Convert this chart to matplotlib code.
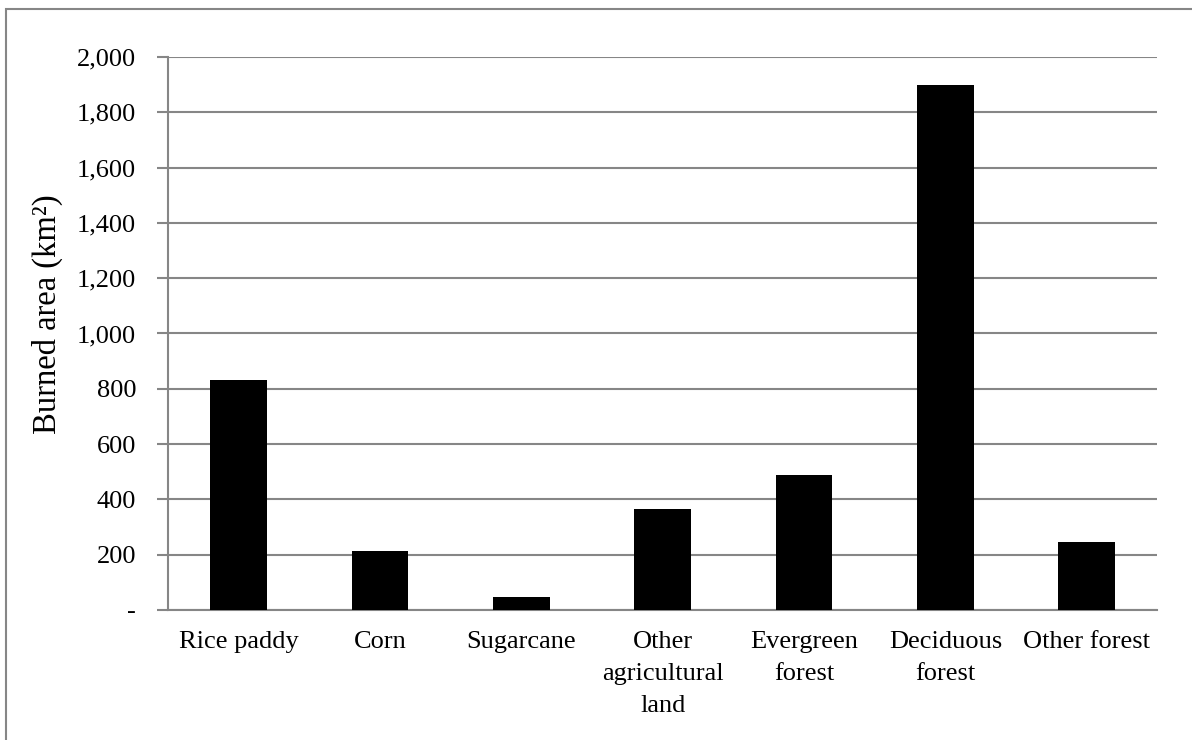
import matplotlib
matplotlib.use('Agg')
from matplotlib import pyplot as plt
from matplotlib.patches import Rectangle
from matplotlib.ticker import FuncFormatter

# burned area by land cover type
categories = ['Rice paddy', 'Corn', 'Sugarcane', 'Other\nagricultural\nland',
              'Evergreen\nforest', 'Deciduous\nforest', 'Other forest']
burned_area = [830, 214, 47, 364, 488, 1900, 247]
y_ticks = [0, 200, 400, 600, 800, 1000, 1200, 1400, 1600, 1800, 2000]

plt.rcParams['font.family'] = ['Liberation Serif', 'DejaVu Serif']

grey = '#868686'

fig = plt.figure(figsize=(11.92, 7.4), dpi=100)
ax = fig.add_axes([0.141, 0.1757, 0.830, 0.7473])

xs = range(len(categories))
ax.bar(xs, burned_area, 0.4, color='black', zorder=3)

ax.set_xlim(-0.5, len(categories) - 0.5)
ax.set_ylim(0, 2000)
ax.set_yticks(y_ticks)
ax.yaxis.set_major_formatter(FuncFormatter(lambda v, p: '-' if v == 0 else '{:,.0f}'.format(v)))
ax.set_xticks(list(xs))
ax.set_xticklabels(categories, fontsize=19, linespacing=1.6, va='top')

ax.grid(axis='y', color=grey, linewidth=1.5, zorder=0)
ax.tick_params(axis='y', length=8, width=1.5, color=grey, labelsize=19, pad=15)
ax.tick_params(axis='x', length=0, pad=15)

for side in ['top', 'right']:
	ax.spines[side].set_visible(False)
for side in ['left', 'bottom']:
	ax.spines[side].set_color(grey)
	ax.spines[side].set_linewidth(1.5)

ax.set_ylabel('Burned area (km²)', fontsize=23.5)
ax.yaxis.set_label_coords(-0.106, 0.535)

# outer frame, only its top and left edges fall inside the picture
fig.patches.append(Rectangle((6 / 1192, -0.1), 1.2, 1.1 - 9 / 740, transform=fig.transFigure,
                             fill=False, edgecolor=grey, linewidth=1.5))

fig.savefig('out.png', dpi=100)
